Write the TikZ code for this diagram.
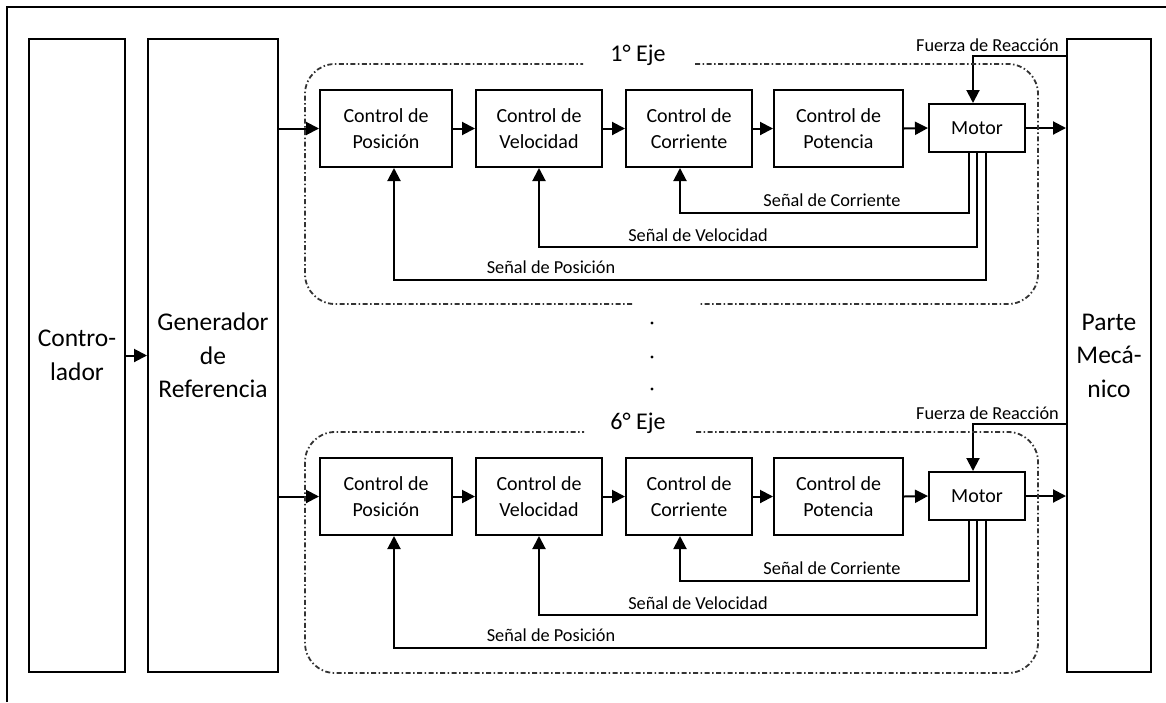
\documentclass[tikz,border=0pt]{standalone}
\usepackage{fontspec}
\setmainfont{Carlito}
\usetikzlibrary{arrows.meta,calc}
\begin{document}
\begin{tikzpicture}[x=1pt,y=-1pt,
  blk/.style={draw, line width=2pt, inner sep=0pt, align=center,
    minimum height=77pt, font=\fontsize{20}{26}\selectfont},
  tall/.style={draw, line width=2pt, inner sep=0pt, minimum height=633pt,
    align=center, font=\fontsize{25.5}{33.5}\selectfont},
  lbl/.style={inner sep=0pt, font=\fontsize{18.3}{20}\selectfont},
  ttl/.style={inner sep=0pt, font=\fontsize{24}{28}\selectfont},
  conn/.style={line width=2pt, -{Triangle[length=13pt,width=13pt]}},
  axisbox/.style={line width=1.8pt, draw=black!80,
    dash pattern=on 5pt off 2.5pt on 1.5pt off 2.5pt, rounded corners=30pt},
]
\useasboundingbox (0,0) rectangle (1166,702);
% outer frame
\draw[line width=1.8pt] (7,702) -- (7,7) -- (1166,7);

% tall blocks
\node[tall, minimum width=96pt]  (ctrl)  at (77,355.5)  {Contro-\\lador};
\node[tall, minimum width=130pt] (gen)   at (213,355.5) {Generador\\de\\Referencia};
\node[tall, minimum width=84pt]  (parte) at (1109,355.5) {Parte\\Mecá-\\nico};
\draw[conn] (ctrl.east) -- (gen.west);

% one control chain per axis
\foreach \k/\dy/\t in {a/0/1° Eje, b/368/6° Eje} {
\begin{scope}[yshift=-\dy pt]
  \node[blk, minimum width=132pt] (pos\k) at (386,128.5)   {Control de\\Posición};
  \node[blk, minimum width=126pt] (vel\k) at (539,128.5)   {Control de\\Velocidad};
  \node[blk, minimum width=126pt] (cor\k) at (689,128.5)   {Control de\\Corriente};
  \node[blk, minimum width=129pt] (pot\k) at (838.5,128.5) {Control de\\Potencia};
  \node[blk, minimum width=96pt, minimum height=48pt] (mot\k) at (977,128) {Motor};

  \draw[conn] (gen.east |- pos\k.west) -- (pos\k.west);
  \draw[conn] (pos\k.east) -- (vel\k.west);
  \draw[conn] (vel\k.east) -- (cor\k.west);
  \draw[conn] (cor\k.east) -- (pot\k.west);
  \draw[conn] (pot\k.east) -- (mot\k.west);
  \draw[conn] (mot\k.east) -- (mot\k.east -| parte.west);

  % reaction force from the mechanical part
  \coordinate (rk\k) at (973,56);
  \draw[conn] (parte.west |- rk\k) -- (rk\k) -- (rk\k |- mot\k.north);
  \node[lbl, anchor=east] (fr\k) at (1059,45) {Fuerza de Reacción};

  % feedback loops
  \coordinate (yc\k) at (0,213);
  \coordinate (yv\k) at (0,247);
  \coordinate (yp\k) at (0,280);
  \draw[conn] ([xshift=-8pt]mot\k.south) |- ([xshift=-9pt]cor\k.south |- yc\k)
              -- ([xshift=-9pt]cor\k.south);
  \draw[conn] (mot\k.south) |- (vel\k.south |- yv\k) -- (vel\k.south);
  \draw[conn] ([xshift=9pt]mot\k.south) |- ([xshift=8pt]pos\k.south |- yp\k)
              -- ([xshift=8pt]pos\k.south);
  \node[lbl] (sc\k) at (832,200) {Señal de Corriente};
  \node[lbl] (sv\k) at (698,235) {Señal de Velocidad};
  \node[lbl] (sp\k) at (551,267) {Señal de Posición};

  \node[ttl] (t\k) at (638,55) {\t};
\end{scope}
}

% axis frames
\draw[axisbox] (695,64) -- (1038,64) -- (1038,304) -- (699,304);
\draw[axisbox] (632,304) -- (305,304) -- (305,64) -- (583,64);
\draw[axisbox] (696,432) -- (1038,432) -- (1038,673) -- (305,673) -- (305,432) -- (584,432);

% dots between the axes
\foreach \yy in {323,357,389} \fill (652,\yy) circle (1.6pt);
\end{tikzpicture}
\end{document}
